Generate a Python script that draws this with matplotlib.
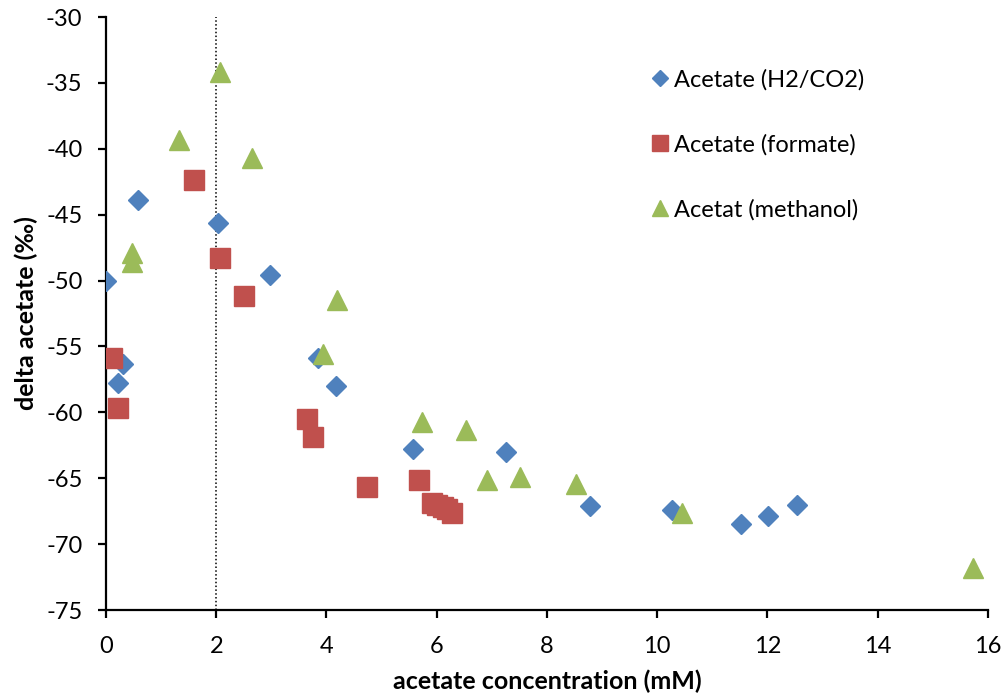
import matplotlib
matplotlib.use("Agg")
import matplotlib.pyplot as plt

plt.rcParams['font.family'] = ['Lato', 'DejaVu Sans']

# Acetate from H2/CO2
h2_x = [0.0, 0.58, 0.31, 0.22, 2.03, 2.98, 3.85, 4.17, 5.57, 7.26, 8.78, 10.27, 11.52, 12.01, 12.54]
h2_y = [-50.0, -43.9, -56.3, -57.8, -45.6, -49.6, -55.9, -58.0, -62.8, -63.0, -67.1, -67.4, -68.5, -67.9, -67.0]

# Acetate from formate
fo_x = [0.11, 0.22, 1.60, 2.07, 2.50, 3.65, 3.76, 4.74, 5.68, 5.92, 6.00, 6.12, 6.19, 6.28]
fo_y = [-55.9, -59.7, -42.4, -48.3, -51.2, -60.5, -61.9, -65.7, -65.1, -66.9, -67.0, -67.2, -67.3, -67.6]

# Acetate from methanol
me_x = [0.47, 0.47, 1.32, 2.07, 2.65, 4.19, 3.94, 5.74, 6.53, 6.91, 7.51, 8.53, 10.45, 15.73]
me_y = [-47.9, -48.6, -39.3, -34.2, -40.7, -51.5, -55.6, -60.7, -61.3, -65.1, -64.9, -65.4, -67.6, -71.8]

x_ticks = [0, 2, 4, 6, 8, 10, 12, 14, 16]
y_ticks = [-75, -70, -65, -60, -55, -50, -45, -40, -35, -30]

fig = plt.figure(figsize=(10.06, 6.98), dpi=100)
ax = fig.add_axes([0.1054, 0.126, 0.8766, 0.8496])

ax.axvline(2, color='black', linestyle=(0, (1, 1.5)), linewidth=1.1, zorder=1)

ax.plot(h2_x, h2_y, linestyle='none', marker='D', markersize=10, color='#4F81BD',
        label='Acetate (H2/CO2)', zorder=3)
ax.plot(fo_x, fo_y, linestyle='none', marker='s', markersize=14, color='#C0504D',
        label='Acetate (formate)', zorder=3)
ax.plot(me_x, me_y, linestyle='none', marker='^', markersize=14, color='#9BBB59',
        label='Acetat (methanol)', zorder=3)

ax.set_xlim(0, 16)
ax.set_ylim(-75, -30)
ax.set_xticks(x_ticks)
ax.set_yticks(y_ticks)
ax.set_xticklabels([str(v) for v in x_ticks])
ax.set_yticklabels([str(v) for v in y_ticks])

for side in ('top', 'right'):
    ax.spines[side].set_visible(False)
for side in ('left', 'bottom'):
    ax.spines[side].set_linewidth(1.6)
    ax.spines[side].set_color('black')
ax.tick_params(axis='both', direction='out', length=6, width=1.6, labelsize=17)
ax.tick_params(axis='y', pad=11)
ax.tick_params(axis='x', pad=13)

ax.set_xlabel('acetate concentration (mM)', fontsize=18, fontweight='bold', labelpad=9)
ax.set_ylabel('delta acetate (‰)', fontsize=18, fontweight='bold', labelpad=6)

leg = ax.legend(loc='upper left', bbox_to_anchor=(0.604, 0.928), frameon=False, fontsize=17,
                handletextpad=0.1, labelspacing=1.84, handlelength=1.0, markerscale=0.85,
                borderaxespad=0)

fig.savefig('out.png', dpi=100)
